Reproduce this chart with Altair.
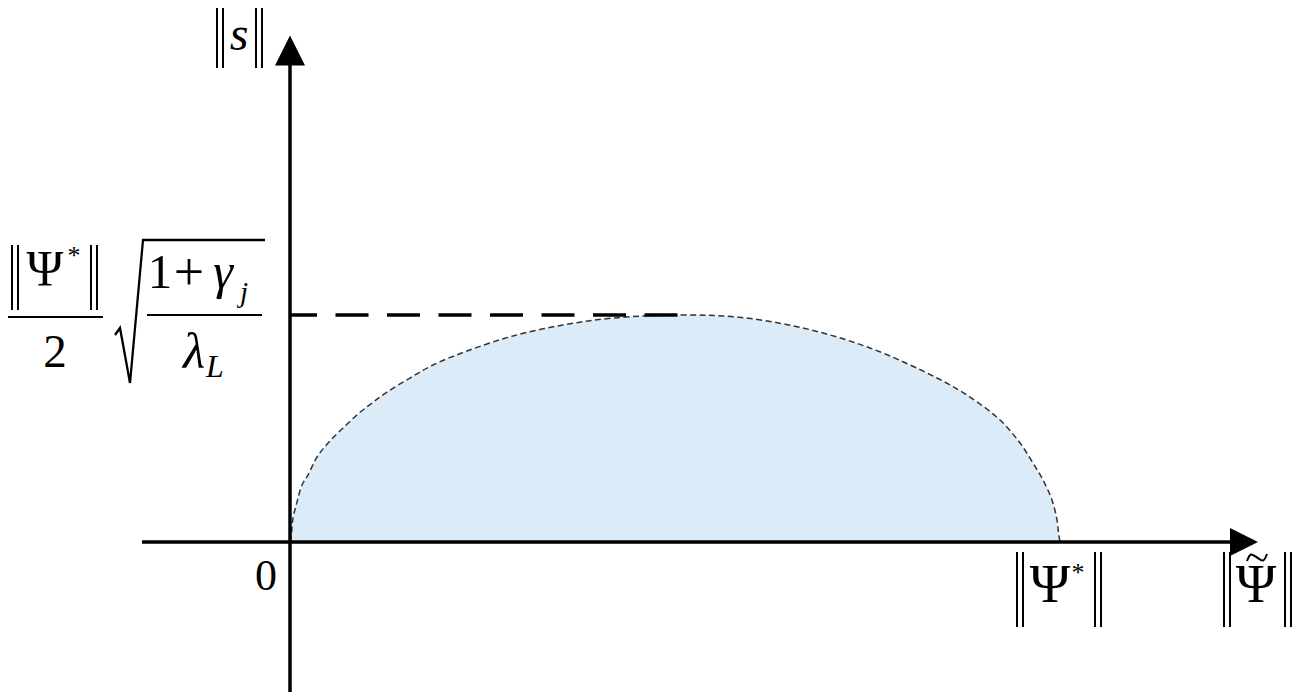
import altair as alt
import pandas as pd

# ---- data: boundary of the shaded region (x = ||Psi~||, y = ||s||)
curve_x = [0.0, 0.013, 0.039, 0.091, 0.156, 0.234, 0.351, 0.494, 0.675, 0.883, 1.065,
           1.26, 1.558, 1.857, 2.299, 2.896, 3.545, 4.195, 5.065, 5.805, 6.662, 7.532,
           8.403, 8.831, 9.221, 9.481, 9.649, 9.779, 9.896, 9.961, 9.981, 10.0]
curve_y = [0.0, 0.053, 0.317, 0.529, 0.753, 0.885, 1.123, 1.308, 1.493, 1.692, 1.837,
           1.982, 2.167, 2.339, 2.524, 2.723, 2.868, 2.960, 3.0, 2.973, 2.828, 2.564,
           2.167, 1.916, 1.612, 1.308, 1.044, 0.819, 0.555, 0.291, 0.119, 0.0]
peak_x = 5.065
peak_y = 3.0

# ---- layout helpers (page pixel -> data units)
W, H = 1285, 684

def U(px):
    return (px - 290) / 77.0

def V(py):
    return (542 - py) / 75.67

xs = alt.Scale(domain=[U(8), U(8 + W)], nice=False, zero=False)
ys = alt.Scale(domain=[V(8 + H), V(8)], nice=False, zero=False)
X = lambda f: alt.X(f, type="quantitative", scale=xs, axis=None)
Y = lambda f: alt.Y(f, type="quantitative", scale=ys, axis=None)

FONT = "Liberation Serif, Times New Roman, DejaVu Serif, serif"

curve = pd.DataFrame({"u": curve_x, "v": curve_y})

area = alt.Chart(curve).mark_area(color="#dcebf8", interpolate="catmull-rom").encode(
    x=X("u"), y=Y("v"), y2=alt.datum(0)
)
boundary = alt.Chart(curve).mark_line(
    color="#333333", strokeWidth=1.5, strokeDash=[6, 3.5], interpolate="catmull-rom"
).encode(x=X("u"), y=Y("v"))

hline = alt.Chart(pd.DataFrame({"u": [0.0], "u2": [peak_x], "v": [peak_y]})).mark_rule(
    color="black", strokeWidth=3.6, strokeDash=[33, 18.5], strokeDashOffset=6
).encode(x=X("u"), x2="u2", y=Y("v"))

# axes
axes_v = alt.Chart(pd.DataFrame({"u": [0.0], "v": [V(695)], "v2": [V(60)]})).mark_rule(
    color="black", strokeWidth=3.5
).encode(x=X("u"), y=Y("v"), y2="v2")
axes_h = alt.Chart(pd.DataFrame({"u": [U(142)], "u2": [U(1235)], "v": [0.0]})).mark_rule(
    color="black", strokeWidth=3.5
).encode(x=X("u"), x2="u2", y=Y("v"))

arrow_up = alt.Chart(pd.DataFrame({"u": [0.0], "v": [V(50.5)]})).mark_point(
    shape="M0,-1L1,1L-1,1Z", size=900, filled=True, color="black", opacity=1
).encode(x=X("u"), y=Y("v"))
arrow_right = alt.Chart(pd.DataFrame({"u": [U(1244)], "v": [0.0]})).mark_point(
    shape="M1,0L-1,-1L-1,1Z", size=784, filled=True, color="black", opacity=1
).encode(x=X("u"), y=Y("v"))

# norm bars (double vertical strokes)
bar_px = [12, 18, 91, 97, 1017, 1023, 1095, 1101, 1224, 1230, 1285, 1291, 217, 223, 256, 262]
bar_top = [245] * 4 + [552] * 8 + [7] * 4
bar_bot = [310] * 4 + [627] * 8 + [68] * 4
bars = alt.Chart(pd.DataFrame({
    "u": [U(p) for p in bar_px],
    "v": [V(p) for p in bar_top],
    "v2": [V(p) for p in bar_bot],
})).mark_rule(color="black", strokeWidth=2).encode(x=X("u"), y=Y("v"), y2="v2")

# fraction bars
fr = alt.Chart(pd.DataFrame({
    "u": [U(7), U(147)], "u2": [U(103), U(262)], "v": [V(317), V(315)]
})).mark_rule(color="black", strokeWidth=2).encode(x=X("u"), x2="u2", y=Y("v"))

# radical sign
rad_px = [115, 120, 130, 143, 265]
rad_py = [335, 328, 383, 240, 240]
radical = alt.Chart(pd.DataFrame({
    "u": [U(p) for p in rad_px], "v": [V(p) for p in rad_py], "o": list(range(5))
})).mark_line(color="black", strokeWidth=2.3, strokeJoin="miter").encode(
    x=X("u"), y=Y("v"), order="o:O"
)

# tilde accent over the second Psi
til_px = [1247, 1251, 1257, 1263, 1267]
til_py = [561, 554.5, 557.5, 560.5, 554]
tilde = alt.Chart(pd.DataFrame({
    "u": [U(p) for p in til_px], "v": [V(p) for p in til_py], "o": list(range(5))
})).mark_line(color="black", strokeWidth=2, interpolate="catmull-rom").encode(
    x=X("u"), y=Y("v"), order="o:O"
)

# text labels
upright = pd.DataFrame({
    "t": ["\u03a8", "*", "\u03a8", "0", "\u03a8", "*", "2", "1", "+"],
    "px": [1050, 1078, 1256, 266, 45, 74, 55, 160, 189],
    "py": [602, 581, 602, 590, 285, 264, 367, 288, 290],
    "fs": [55, 26, 55, 44, 50, 26, 47, 49, 54],
})
italic = pd.DataFrame({
    "t": ["s", "\u03b3", "j", "\u03bb", "L"],
    "px": [239, 223, 244, 194, 215],
    "py": [50, 288, 302, 368, 377],
    "fs": [48, 50, 29, 51, 32],
})
for d in (upright, italic):
    d["u"] = d["px"].map(U)
    d["v"] = d["py"].map(V)

txt_up = alt.Chart(upright).mark_text(
    font=FONT, align="center", baseline="alphabetic", color="black"
).encode(x=X("u"), y=Y("v"), text="t:N", size=alt.Size("fs:Q", scale=None))
txt_it = alt.Chart(italic).mark_text(
    font=FONT, fontStyle="italic", align="center", baseline="alphabetic", color="black"
).encode(x=X("u"), y=Y("v"), text="t:N", size=alt.Size("fs:Q", scale=None))

chart = alt.layer(
    area, boundary, hline, axes_v, axes_h, arrow_up, arrow_right,
    bars, fr, radical, tilde, txt_up, txt_it
).properties(
    width=W, height=H, padding=0,
    autosize=alt.AutoSizeParams(type="none"),
).configure_view(stroke=None)

chart.save("out.html", embed_options={"renderer": "svg", "actions": False})
